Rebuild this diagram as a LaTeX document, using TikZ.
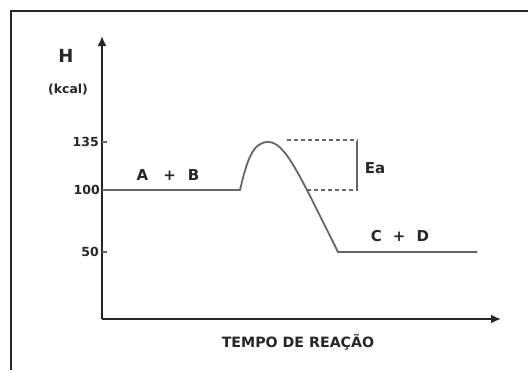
\documentclass[tikz,border=0pt]{standalone}
\usepackage{fontspec}
\setmainfont{DejaVu Sans}
\usetikzlibrary{positioning,calc,arrows.meta}
\begin{document}
\begin{tikzpicture}[x=1pt,y=-1pt,
		lbl/.style={inner sep=0pt, text=black!85, font=\bfseries\fontsize{#1}{#1}\selectfont},
		axis/.style={line width=1.8pt, black!85},
		curve/.style={line width=1.8pt, black!60}]
	\useasboundingbox (0,0) rectangle (528,370);
	\fill[white] (0,0) rectangle (528,370);
	\draw[line width=2.8pt, black!85] (528,11)--(11,11)--(11,370);
	
	% axes
	\coordinate (o) at (102,319);
	\coordinate (ytip) at (102,36);
	\coordinate (xtip) at (501,319);
	\draw[-{Latex[length=10pt,width=9pt]}, axis] (o)--(ytip);
	\draw[-{Latex[length=10pt,width=9pt]}, axis] (o)--(xtip);
	\node[lbl=18] (H) at (66,56) {H};
	\node[lbl=12.5] (kcal) at (68,90) {(kcal)};
	\node[lbl=14.2] (tempo) at (298,342) {TEMPO DE REAÇÃO};
	
	% ticks
	\node[lbl=12.5, anchor=east] (t135) at (99,142) {135};
	\node[lbl=12.5, anchor=east] (t100) at (100,190) {100};
	\node[lbl=12.5, anchor=east] (t50) at (99,252) {50};
	\draw[curve, line width=1.2pt] (102,142)--(107,142);
	\draw[curve, line width=1.2pt] (102,252)--(107,252);
	
	% enthalpy path
	\coordinate (r0) at (102,190);
	\coordinate (r1) at (240,190);
	\coordinate (ts) at (268,142);
	\coordinate (p0) at (338,252);
	\coordinate (p1) at (477,252);
	\draw[curve] (r0)--(r1) .. controls (247,160) and (253,142) .. (ts)
		.. controls (285,142) and (298,172) .. (p0)--(p1);
	\node[lbl=15] (AB) at (168,175) {A\hspace{15pt}+\hspace{12pt}B};
	\node[lbl=15] (CD) at (400,236) {C\hspace{11pt}+\hspace{11pt}D};
	
	% activation energy
	\draw[curve, line width=1.2pt, dash pattern=on 4pt off 3pt] (287,140)--(358,140);
	\draw[curve, line width=1.2pt, dash pattern=on 4pt off 3pt] (307,190)--(358,190);
	\draw[curve, line width=1.5pt] (357,141)--(357,190);
	\node[lbl=15] (Ea) at (375,168) {Ea};
\end{tikzpicture}
\end{document}
